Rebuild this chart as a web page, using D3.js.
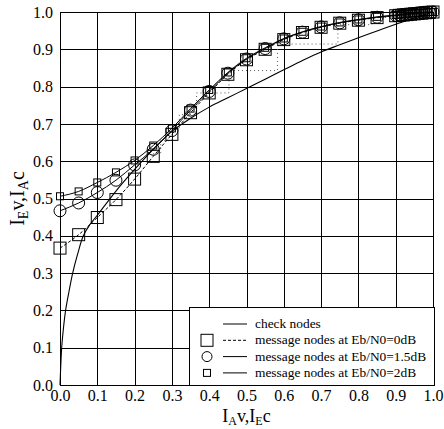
<!DOCTYPE html>
<html><head><meta charset="utf-8">
<script src="https://cdn.jsdelivr.net/npm/d3@7"></script>
<style>body{margin:0;background:#fff}svg{display:block}text{font-family:"Liberation Serif","Times New Roman",serif}</style>
</head><body><svg id="c" width="444" height="429"></svg>
<script>
const ticks = [0,0.1,0.2,0.3,0.4,0.5,0.6,0.7,0.8,0.9,1.0];
const msgX = [0,0.05,0.1,0.15,0.2,0.25,0.3,0.35,0.4,0.45,0.5,0.55,0.6,0.65,0.7,0.75,0.8,0.85,0.9,0.91,0.92,0.93,0.94,0.95,0.96,0.97,0.98,0.99,1.0];
const msg0dB = [0.367,0.403,0.449,0.497,0.552,0.613,0.672,0.73,0.783,0.833,0.872,0.90,0.926,0.945,0.959,0.970,0.978,0.985,0.990,0.991,0.992,0.993,0.994,0.995,0.996,0.997,0.998,0.999,1.0];
const msg15dB = [0.467,0.488,0.516,0.549,0.59,0.632,0.682,0.737,0.787,0.836,0.874,0.902,0.928,0.946,0.960,0.971,0.979,0.986,0.991,0.992,0.993,0.994,0.995,0.996,0.997,0.998,0.999,0.999,1.0];
const msg2dB = [0.506,0.519,0.543,0.570,0.602,0.642,0.688,0.741,0.791,0.838,0.876,0.904,0.929,0.947,0.961,0.972,0.980,0.987,0.992,0.993,0.994,0.995,0.996,0.997,0.997,0.998,0.999,1.0,1.0];
const checkX = [0,0.002,0.0045,0.009,0.015,0.024,0.034,0.047,0.0625,0.08,0.1,0.15,0.2,0.25,0.3,0.35,0.4,0.45,0.5,0.55,0.6,0.65,0.7,0.75,0.8,0.85,0.9,0.95,1.0];
const checkY = [0,0.05,0.1,0.15,0.2,0.25,0.3,0.35,0.4,0.43,0.455,0.52,0.578,0.632,0.68,0.715,0.745,0.77,0.795,0.82,0.845,0.87,0.893,0.912,0.931,0.949,0.967,0.984,1.0];
const trajX = [0.25,0.27,0.27,0.30,0.30,0.32,0.32,0.366,0.366,0.453,0.453,0.583,0.583,0.745,0.745,0.836,0.836,0.9,0.9,0.95];
const trajY = [0.62,0.62,0.655,0.655,0.69,0.69,0.725,0.725,0.783,0.783,0.843,0.843,0.914,0.914,0.966,0.966,0.985,0.985,0.995,0.995];
const legendLabels = ["check nodes","message nodes at Eb/N0=0dB","message nodes at Eb/N0=1.5dB","message nodes at Eb/N0=2dB"];

const svg = d3.select("#c");
const L=60, T=12, W=373, H=373;
const x = d3.scaleLinear().domain([0,1]).range([L, L+W]);
const y = d3.scaleLinear().domain([0,1]).range([T+H, T]);

const g = svg.append("g");
g.selectAll(".gx").data(ticks).join("line")
 .attr("x1",d=>Math.round(x(d))+0.5).attr("x2",d=>Math.round(x(d))+0.5)
 .attr("y1",T).attr("y2",T+H).attr("stroke","#000").attr("stroke-width",1);
g.selectAll(".gy").data(ticks).join("line")
 .attr("y1",d=>Math.round(y(d))+0.5).attr("y2",d=>Math.round(y(d))+0.5)
 .attr("x1",L).attr("x2",L+W).attr("stroke","#000").attr("stroke-width",1);

const xa = svg.append("g").attr("transform",`translate(0,${T+H})`)
 .call(d3.axisBottom(x).tickValues(ticks).tickFormat(d3.format(".1f")).tickSize(0).tickPadding(5));
const ya = svg.append("g").attr("transform",`translate(${L},0)`)
 .call(d3.axisLeft(y).tickValues(ticks).tickFormat(d3.format(".1f")).tickSize(0).tickPadding(7));
[xa,ya].forEach(a=>{a.select(".domain").remove();a.selectAll("text").attr("font-size",16).attr("font-family","Liberation Serif").attr("fill","#000");});

const line = d3.line().x(d=>x(d[0])).y(d=>y(d[1]));
const curve = d3.line().curve(d3.curveMonotoneX).x(d=>x(d[0])).y(d=>y(d[1]));
svg.append("path").datum(checkX.map((v,i)=>[v,checkY[i]])).attr("d",d3.line().curve(d3.curveCatmullRom).x(d=>x(d[0])).y(d=>y(d[1])))
 .attr("fill","none").attr("stroke","#000").attr("stroke-width",1.1);

svg.append("path").datum(trajX.map((v,i)=>[v,trajY[i]])).attr("d",line)
 .attr("fill","none").attr("stroke","#555").attr("stroke-width",1).attr("stroke-dasharray","1,3");

const series = [
 {vals:msg0dB, dash:"3,2", shape:"bigsq"},
 {vals:msg15dB, dash:null, shape:"circle"},
 {vals:msg2dB, dash:null, shape:"smsq"}
];
function drawMarker(sel, shape, cx, cy){
 if(shape==="bigsq") sel.append("rect").attr("x",cx-6).attr("y",cy-6).attr("width",12).attr("height",12);
 else if(shape==="smsq") sel.append("rect").attr("x",cx-3.5).attr("y",cy-3.5).attr("width",7).attr("height",7);
 else sel.append("circle").attr("cx",cx).attr("cy",cy).attr("r",6);
}
series.forEach(s=>{
 const pts = msgX.map((v,i)=>[v,s.vals[i]]);
 svg.append("path").datum(pts).attr("d",curve).attr("fill","none").attr("stroke","#000").attr("stroke-width",1)
  .attr("stroke-dasharray",s.dash);
 const mg = svg.append("g").attr("fill","none").attr("stroke","#000").attr("stroke-width",1);
 pts.forEach(p=>drawMarker(mg,s.shape,x(p[0]),y(p[1])));
});

const lg = svg.append("g");
lg.append("rect").attr("x",189.5).attr("y",307.5).attr("width",245).attr("height",78).attr("fill","#fff").attr("stroke","#000");
const shapes=[null,"bigsq","circle","smsq"], dashes=[null,"3,2",null,null];
legendLabels.forEach((t,i)=>{
 const cy = 324 + i*16.3;
 lg.append("line").attr("x1",223).attr("x2",247).attr("y1",cy).attr("y2",cy).attr("stroke","#000").attr("stroke-dasharray",dashes[i]);
 if(shapes[i]){const m=lg.append("g").attr("fill","none").attr("stroke","#000");
  if(shapes[i]==="circle") m.append("circle").attr("cx",207).attr("cy",cy).attr("r",5);
  else drawMarker(m,shapes[i],207,cy);}
 lg.append("text").attr("x",255).attr("y",cy+4).attr("font-size",13.4).text(t);
});

const xt = svg.append("text").attr("x",x(0.5)).attr("y",422).attr("text-anchor","middle").attr("font-size",18);
xt.append("tspan").text("I");
xt.append("tspan").attr("font-size",12).attr("dy",2.5).text("A");
xt.append("tspan").attr("dy",-2.5).text("v,I");
xt.append("tspan").attr("font-size",12).attr("dy",2.5).text("E");
xt.append("tspan").attr("dy",-2.5).text("c");
const yt = svg.append("text").attr("transform",`translate(24,${y(0.5)}) rotate(-90)`).attr("text-anchor","middle").attr("font-size",20);
yt.append("tspan").text("I");
yt.append("tspan").attr("font-size",14).attr("dy",4).text("E");
yt.append("tspan").attr("dy",-4).text("v,I");
yt.append("tspan").attr("font-size",14).attr("dy",4).text("A");
yt.append("tspan").attr("dy",-4).text("c");
</script></body></html>
